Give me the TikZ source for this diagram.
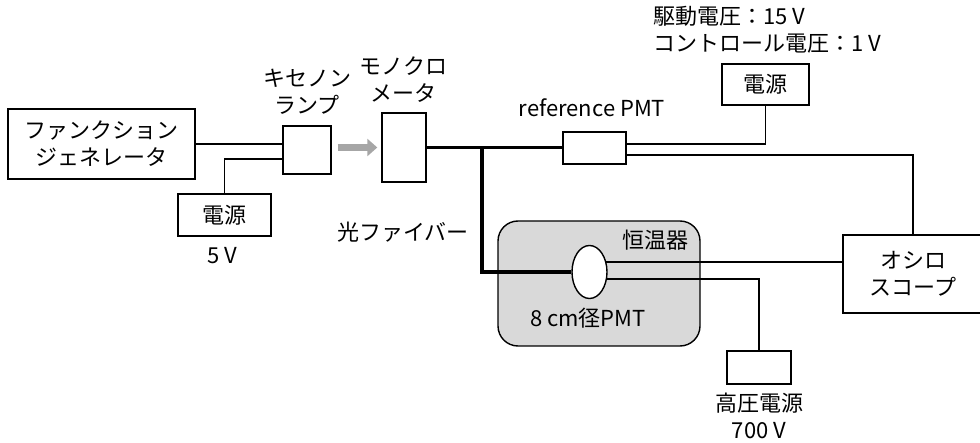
\documentclass[tikz,border=0pt]{standalone}
\usepackage{fontspec}
\setmainfont{Noto Sans CJK JP}
\usetikzlibrary{calc, arrows.meta, shapes.geometric}

\begin{document}
\begin{tikzpicture}[x=1pt, y=-1pt, font=\fontsize{22}{27}\selectfont,
  box/.style={draw, line width=1.4pt, fill=white, inner sep=0pt, align=center},
  wire/.style={line width=1.6pt},
  fiber/.style={line width=3.2pt},
  lbl/.style={inner sep=0pt, align=center}]
  \useasboundingbox (0,0) rectangle (980,443);
  % 恒温器
  \node[draw, line width=1.4pt, fill=black!15, rounded corners=20pt,
        minimum width=202pt, minimum height=125pt] (bath) at (599,283.5) {};
  \node[lbl] (bathlbl) at (655,240) {恒温器};
  \node[lbl] (pmtlbl) at (588,318) {8 cm径PMT};
  % 機器
  \node[box, minimum width=187pt, minimum height=70pt] (fg) at (101.5,144) {ファンクション\\ジェネレータ};
  \node[box, minimum width=93pt, minimum height=42pt] (ps1) at (224.5,215) {電源};
  \node[box, minimum width=48pt, minimum height=48pt] (lamp) at (307,150) {};
  \node[box, minimum width=44pt, minimum height=69pt] (mono) at (404,147.5) {};
  \node[box, minimum width=63pt, minimum height=32pt] (ref) at (594.5,148) {};
  \node[box, minimum width=87pt, minimum height=41pt] (ps2) at (765.5,84.5) {電源};
  \node[box, minimum width=140pt, minimum height=78pt] (osc) at (913,274) {オシロ\\スコープ};
  \node[box, minimum width=64pt, minimum height=33pt] (hv) at (759,367.5) {};
  \node[draw, ellipse, line width=1.4pt, fill=white, inner sep=0pt,
        minimum width=35pt, minimum height=53pt] (pmt) at (589.5,272) {};
  % ラベル
  \node[lbl] (lamplbl) at (307,92) {キセノン\\ランプ};
  \node[lbl] (monolbl) at (403,80) {モノクロ\\メータ};
  \node[lbl] (v5) at (222,256) {5 V};
  \node[lbl] (fiberlbl) at (403,232) {光ファイバー};
  \node[lbl] (reflbl) at (592,108) {reference PMT};
  \node[lbl, align=left, anchor=west] (ps2lbl) at (653,30) {駆動電圧：15 V\\コントロール電圧：1 V};
  \node[lbl] (hvlbl) at (759,416) {高圧電源\\700 V};
  % 配線
  \draw[wire] (fg.east) -- (fg.east -| lamp.west);
  \draw[wire] ([yshift=-9pt]lamp.west) -| (ps1.north);
  \draw[wire] ([yshift=4pt]ref.east) -| (ps2.south);
  \draw[wire] ([yshift=-7pt]ref.east) -| (osc.north);
  \draw[wire] (pmt.30) -- (pmt.30 -| osc.west);
  \draw[wire] (pmt.-22) -| (hv.north);
  % 光
  \draw[line width=7pt, gray!70, -{Triangle[width=17pt, length=10pt]}]
    ([xshift=6pt]mono.west -| lamp.east) -- ([xshift=-4pt]mono.west);
  \coordinate (split) at (482,148);
  \draw[fiber] (mono.east) -- (mono.east -| ref.west);
  \draw[fiber] (split) |- (pmt.west);
\end{tikzpicture}
\end{document}
